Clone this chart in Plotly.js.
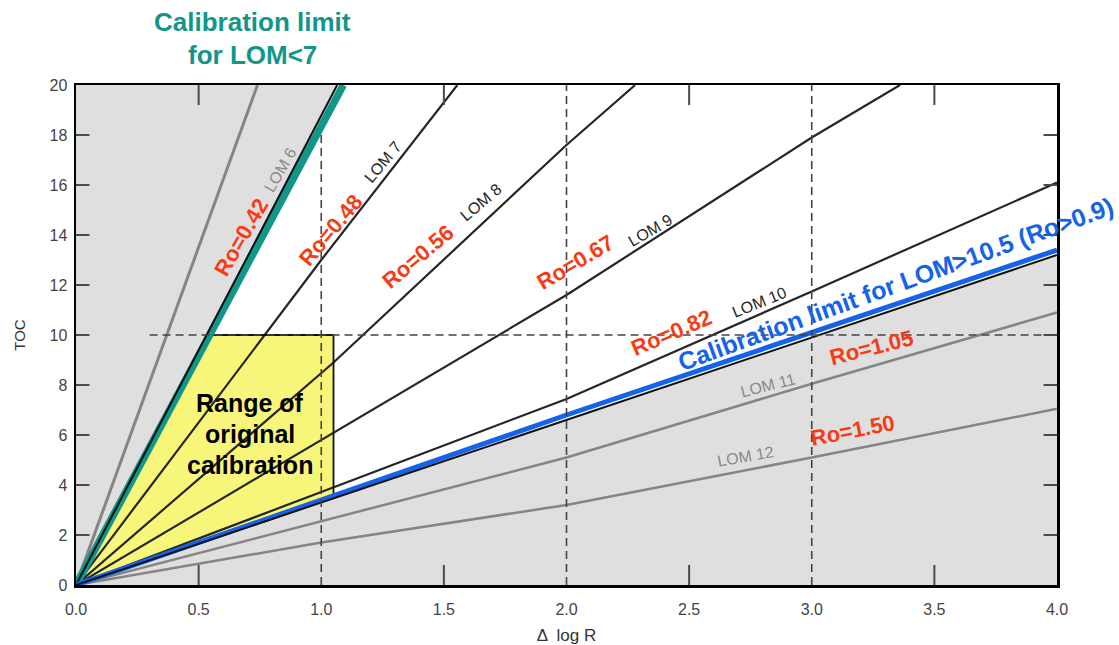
<!DOCTYPE html>
<html>
<head>
<meta charset="utf-8">
<script src="https://cdn.plot.ly/plotly-3.0.1.min.js"></script>
<style>
  html, body { margin: 0; padding: 0; background: #ffffff; }
  #chart { width: 1119px; height: 645px; }
</style>
</head>
<body>
<div id="chart"></div>
<script>
// ---------- data ----------
const xTickVals  = [0, 0.5, 1, 1.5, 2, 2.5, 3, 3.5, 4];
const xTickText  = ['0.0', '0.5', '1.0', '1.5', '2.0', '2.5', '3.0', '3.5', '4.0'];
const yTickVals  = [0, 2, 4, 6, 8, 10, 12, 14, 16, 18, 20];

// LOM iso-lines (ΔlogR, TOC)
const lom5X  = [0, 0.74];            const lom5Y  = [0, 20];
const lom6X  = [0, 1.065];           const lom6Y  = [0, 20];
const lom7X  = [0, 1.0, 1.555];      const lom7Y  = [0, 13.0, 20];
const lom8X  = [0, 1.05, 2.0, 2.28]; const lom8Y  = [0, 8.9, 17.6, 20];
const lom9X  = [0, 2.0, 3.0, 3.36];  const lom9Y  = [0, 11.6, 17.9, 20];
const lom10X = [0, 2.0, 3.0, 4.0];   const lom10Y = [0, 7.44, 11.74, 16.1];
const lom105X = [0, 4.0];            const lom105Y = [0, 13.2];
const lom11X = [0, 2.0, 3.0, 4.0];   const lom11Y = [0, 5.1, 8.05, 10.9];
const lom12X = [0, 1.0, 2.0, 3.0, 4.0]; const lom12Y = [0, 1.7, 3.2, 5.1, 7.05];

// highlighted calibration limits
const limitLow7X   = [0, 1.09];      const limitLow7Y   = [0, 20];
const limitHigh105X = [0, 2.0, 4.0]; const limitHigh105Y = [0, 6.8, 13.4];

// range of original calibration (ΔlogR max, TOC max)
const calibTocMax   = 10;
const calibDlrMax   = 1.05;
const calibDlrAtTop = 0.545;  // where LOM 6 line meets TOC = 10
const calibTocAtRight = 3.5;  // where LOM 10.5 line meets ΔlogR = 1.05

// dashed reference lines
const refDlr = [1, 2, 3];
const refDlrTop = [18.2, 20, 20];
const refToc = 10;
const refTocStart = 0.3;

// labels
const roLabels  = ['Ro=0.42', 'Ro=0.48', 'Ro=0.56', 'Ro=0.67', 'Ro=0.82', 'Ro=1.05', 'Ro=1.50'];
const lomLabels = ['LOM 6', 'LOM 7', 'LOM 8', 'LOM 9', 'LOM 10', 'LOM 11', 'LOM 12'];

// ---------- styling ----------
const TEAL = '#12968a';
const BLUE = '#1463ea';
const RED  = '#f63c16';
const GRAYFILL = '#dfdfdf';
const GRAYLINE = '#858585';
const DARK = '#262626';
const FONT = 'Liberation Sans, Arial, Helvetica, sans-serif';
const X_MAX = 4, Y_MAX = 20;
const TICK_X_LEN = 0.8;     // inner tick length on x axes (TOC units)
const TICK_Y_LEN = 0.055;   // inner tick length on y axes (ΔlogR units)

function line(x, y, color, width) {
  return { type: 'scatter', mode: 'lines', x: x, y: y, connectgaps: false,
           line: { color: color, width: width }, hoverinfo: 'skip', showlegend: false };
}
function poly(x, y, color) {
  return { type: 'scatter', mode: 'lines', x: x, y: y, fill: 'toself', fillcolor: color,
           line: { width: 0, color: color }, hoverinfo: 'skip', showlegend: false };
}

const last = a => a[a.length - 1];

// inner tick marks on all four sides, as one broken polyline
const tickX = [], tickY = [];
yTickVals.filter(v => v > 0 && v < Y_MAX).forEach(v => {
  tickX.push(0, TICK_Y_LEN, null, X_MAX - TICK_Y_LEN, X_MAX, null);
  tickY.push(v, v, null, v, v, null);
});
xTickVals.filter(v => v % 1 !== 0).forEach(v => {
  tickX.push(v, v, null, v, v, null);
  tickY.push(0, TICK_X_LEN, null, Y_MAX - TICK_X_LEN, Y_MAX, null);
});

const traces = [
  poly([0, 0, last(lom6X), 0], [0, Y_MAX, last(lom6Y), 0], GRAYFILL),
  poly([0, last(lom105X), last(lom105X), 0], [0, last(lom105Y), 0, 0], GRAYFILL),
  poly([0, calibDlrAtTop, calibDlrMax, calibDlrMax, 0],
       [0, calibTocMax, calibTocMax, calibTocAtRight, 0], '#f8f67a'),
  line(lom5X, lom5Y, GRAYLINE, 3),
  line(lom11X, lom11Y, GRAYLINE, 2.5),
  line(lom12X, lom12Y, GRAYLINE, 2.5),
  line(lom7X, lom7Y, DARK, 2.2),
  line(lom8X, lom8Y, DARK, 2.2),
  line(lom9X, lom9Y, DARK, 2.2),
  line(lom10X, lom10Y, DARK, 2.2),
  line([calibDlrAtTop, calibDlrMax, calibDlrMax], [calibTocMax, calibTocMax, calibTocAtRight], '#111', 1.8),
  line(limitLow7X, limitLow7Y, TEAL, 7.5),
  line(lom6X, lom6Y, '#111', 2),
  line(limitHigh105X, limitHigh105Y, BLUE, 5),
  line(lom105X, lom105Y, '#111', 2),
  line(tickX, tickY, '#4a4a4a', 2)
];

// dashed guide lines
const shapes = [];
refDlr.forEach((v, i) => {
  shapes.push({ type: 'line', xref: 'x', yref: 'y', x0: v, x1: v, y0: 0, y1: refDlrTop[i],
                line: { color: '#444', width: 1.6, dash: '8px,5px' }, layer: 'above' });
});
shapes.push({ type: 'line', xref: 'x', yref: 'y', x0: refTocStart, x1: X_MAX, y0: refToc, y1: refToc,
              line: { color: '#444', width: 1.6, dash: '8px,5px' }, layer: 'above' });

// annotations
function ann(text, x, y, angle, color, size, bold) {
  return { text: bold ? '<b>' + text + '</b>' : text, x: x, y: y, xref: 'x', yref: 'y',
           xanchor: 'center', yanchor: 'middle',
           showarrow: false, textangle: angle,
           font: { family: FONT, size: size, color: color } };
}
const roPos  = [[0.673, 13.9, -60], [1.036, 14.2, -50], [1.394, 13.16, -40], [2.035, 12.9, -31],
                [2.43, 10.1, -23], [3.245, 9.5, -14], [3.165, 6.2, -11]];
const lomPos = [[0.83, 16.6, -60], [1.25, 16.9, -50], [1.65, 15.3, -40], [2.34, 14.2, -30],
                [2.785, 11.3, -22], [2.82, 8.0, -14], [2.73, 5.16, -10]];
const lomCol = ['#8a8a8a', DARK, DARK, DARK, DARK, '#8a8a8a', '#8a8a8a'];

const annotations = [];
roLabels.forEach((t, i) => annotations.push(ann(t, roPos[i][0], roPos[i][1], roPos[i][2], RED, 22, true)));
lomLabels.forEach((t, i) => annotations.push(ann(t, lomPos[i][0], lomPos[i][1], lomPos[i][2], lomCol[i], 16, false)));
annotations.push(ann('Calibration limit for LOM&gt;10.5 (Ro&gt;0.9)', 3.34, 12.05, -20, BLUE, 25, true));
annotations.push(ann('Range of', 0.71, 7.3, 0, '#000', 25, true));
annotations.push(ann('original', 0.71, 6.05, 0, '#000', 25, true));
annotations.push(ann('calibration', 0.71, 4.8, 0, '#000', 25, true));
annotations.push({ text: '<b>Calibration limit</b>', xref: 'paper', yref: 'paper', x: 0.1795, y: 1.126,
                   xanchor: 'center', yanchor: 'middle',
                   showarrow: false, font: { family: FONT, size: 26, color: TEAL } });
annotations.push({ text: '<b>for LOM&lt;7</b>', xref: 'paper', yref: 'paper', x: 0.1795, y: 1.06,
                   xanchor: 'center', yanchor: 'middle',
                   showarrow: false, font: { family: FONT, size: 26, color: TEAL } });

const layout = {
  width: 1119, height: 645,
  margin: { l: 76, r: 62, t: 85, b: 60 },
  paper_bgcolor: '#ffffff', plot_bgcolor: '#ffffff',
  showlegend: false,
  font: { family: FONT, color: '#333' },
  xaxis: {
    range: [0, X_MAX], tickvals: xTickVals, ticktext: xTickText, ticks: '',
    ticklabelstandoff: 8,
    showline: true, linewidth: 2.5, linecolor: '#000', mirror: true,
    showgrid: false, zeroline: false,
    tickfont: { family: FONT, size: 16, color: '#444' },
    title: { text: 'Δ  log R', font: { family: FONT, size: 17, color: '#333' }, standoff: 16 }
  },
  yaxis: {
    range: [0, Y_MAX], tickvals: yTickVals, ticks: '',
    ticklabelstandoff: 3,
    showline: true, linewidth: 2.5, linecolor: '#000', mirror: true,
    showgrid: false, zeroline: false,
    tickfont: { family: FONT, size: 16, color: '#444' },
    title: { text: 'TOC', font: { family: FONT, size: 15, color: '#333' }, standoff: 21 }
  },
  shapes: shapes,
  annotations: annotations
};

Plotly.newPlot('chart', traces, layout, { staticPlot: true, displayModeBar: false });
</script>
</body>
</html>
